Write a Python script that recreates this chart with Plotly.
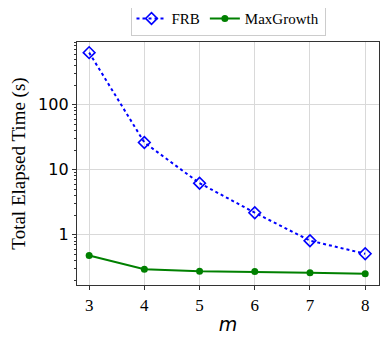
import plotly.graph_objects as go

# ==== Data ====
m_values = [3, 4, 5, 6, 7, 8]
frb_time = [630, 26.2, 6.2, 2.18, 0.81, 0.51]
maxgrowth_time = [0.48, 0.295, 0.275, 0.271, 0.261, 0.252]
y_tick_vals = [1, 10, 100]
y_tick_text = ["1", "10", "100"]
# log minor ticks: 2..9 in each decade
y_minor_vals = [k * 10.0 ** d for d in (-1, 0, 1, 2) for k in range(2, 10)]

serif = "Liberation Serif, Times New Roman, serif"
sans = "DejaVu Sans, sans-serif"

fig = go.Figure()
fig.add_trace(go.Scatter(
    x=m_values, y=frb_time, mode="lines+markers", name="FRB",
    line=dict(color="#0000ff", dash="dot", width=2),
    marker=dict(symbol="diamond-open", size=9, color="#0000ff", line=dict(width=1.6)),
))
fig.add_trace(go.Scatter(
    x=m_values, y=maxgrowth_time, mode="lines+markers", name="MaxGrowth",
    line=dict(color="#008000", width=2),
    marker=dict(symbol="circle", size=7, color="#008000"),
))

# page body keeps its default 8px margin, so the figure is 8px smaller
fig.update_layout(
    width=383, height=329,
    margin=dict(l=69, r=12, t=34, b=52, autoexpand=False),
    plot_bgcolor="white", paper_bgcolor="white",
    showlegend=True,
    legend=dict(
        orientation="h", x=0.5, xanchor="center", y=1.024, yanchor="bottom",
        font=dict(family=serif, size=15, color="black"),
        bordercolor="#cccccc", borderwidth=1, bgcolor="white",
        itemwidth=30, tracegroupgap=0,
    ),
    xaxis=dict(
        range=[2.78, 8.25], tickvals=m_values, ticks="outside", ticklen=4,
        tickcolor="#333", showline=True, linecolor="#333", linewidth=1.3, mirror=True,
        showgrid=True, gridcolor="#d9d9d9", zeroline=False,
        tickfont=dict(family=serif, size=17, color="black"),
        title=dict(text="<i>m</i>", font=dict(family=sans, size=19, color="black"), standoff=4),
    ),
    yaxis=dict(
        type="log", range=[-0.773, 2.963], tickvals=y_tick_vals, ticktext=y_tick_text,
        ticks="outside", ticklen=4, tickcolor="#333",
        showline=True, linecolor="#333", linewidth=1.3, mirror=True,
        showgrid=True, gridcolor="#d9d9d9", zeroline=False,
        tickfont=dict(family=sans, size=16, color="black"),
        minor=dict(ticks="outside", ticklen=2, tickcolor="#333", showgrid=False,
                   tickmode="array", tickvals=y_minor_vals),
        title=dict(text="Total Elapsed Time (s)", font=dict(family=serif, size=19, color="black"), standoff=8),
    ),
)

fig.write_html("out.html")
